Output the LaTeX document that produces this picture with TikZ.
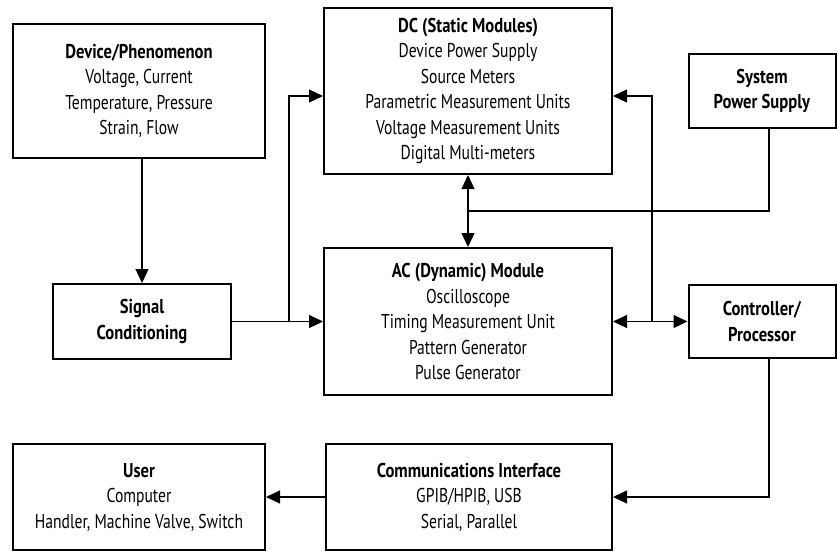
\documentclass[tikz,border=0pt]{standalone}
\usepackage{fontspec}
\setmainfont{PT Sans}[FakeStretch=0.78,BoldFeatures={FakeStretch=0.83}]
\usepackage{tikz}
\usetikzlibrary{arrows.meta}

\begin{document}
\begin{tikzpicture}[x=1pt,y=-1pt,
    box/.style={draw,line width=2pt,align=center,inner sep=0pt,
        font=\fontsize{20}{25.5}\selectfont},
    link/.style={line width=1.1pt},
    arr/.style={link,-{Triangle[length=14pt,width=13pt]}},
    darr/.style={link,{Triangle[length=14pt,width=13pt]}-{Triangle[length=14pt,width=13pt]}}]
    \useasboundingbox (0,0) rectangle (837,552);

    \node[box,minimum width=252pt,minimum height=134pt] (dev) at (139,91)
        {\textbf{Device/Phenomenon}\\Voltage, Current\\Temperature, Pressure\\Strain, Flow};
    \node[box,minimum width=288pt,minimum height=166pt] (dc) at (468,91)
        {\textbf{DC (Static Modules)}\\Device Power Supply\\Source Meters\\Parametric Measurement Units\\Voltage Measurement Units\\Digital Multi-meters};
    \node[box,minimum width=147pt,minimum height=74pt] (sps) at (762,91)
        {\textbf{System}\\\textbf{Power Supply}};
    \node[box,minimum width=178pt,minimum height=75pt] (sig) at (142,321.5)
        {\textbf{Signal}\\\textbf{Conditioning}};
    \node[box,minimum width=288pt,minimum height=147pt] (ac) at (468,321.5)
        {\textbf{AC (Dynamic) Module}\\Oscilloscope\\Timing Measurement Unit\\Pattern Generator\\Pulse Generator};
    \node[box,minimum width=147pt,minimum height=73pt] (ctrl) at (762,321.5)
        {\textbf{Controller/}\\\textbf{Processor}};
    \node[box,minimum width=286pt,minimum height=106pt] (comm) at (469,497)
        {\textbf{Communications Interface}\\GPIB/HPIB, USB\\Serial, Parallel};
    \node[box,minimum width=252pt,minimum height=106pt] (user) at (139,497)
        {\textbf{User}\\Computer\\Handler, Machine Valve, Switch};

    \coordinate (sigjoin) at (289,321.5);
    \coordinate (psjoin) at (468,211);
    \coordinate (ctrljoin) at (652,321.5);

    \draw[arr] (sig.north |- dev.south) -- (sig.north);
    \draw[arr] (sig.east) -- (ac.west);
    \draw[arr] (sigjoin) |- ([yshift=-5pt]dc.west);
    \draw[darr] (dc.south) -- (ac.north);
    \draw[link] (sps.south -| 769,0) |- (psjoin);
    \draw[darr] (ac.east) -- (ctrl.west);
    \draw[arr] (ctrljoin) |- ([yshift=-5pt]dc.east);
    \draw[arr] (ctrl.south -| 769,0) |- (comm.east);
    \draw[arr] (comm.west) -- (user.east);
\end{tikzpicture}
\end{document}
